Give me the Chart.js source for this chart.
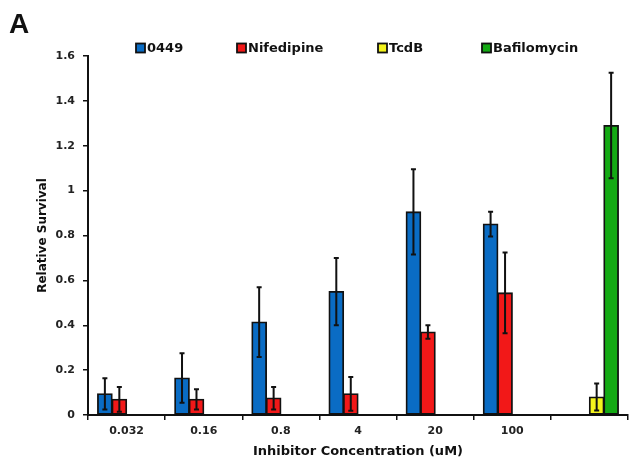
<!DOCTYPE html>
<html>
<head>
<meta charset="utf-8">
<script src="https://cdn.jsdelivr.net/npm/chart.js@4/dist/chart.umd.min.js"></script>
<style>
  html, body { margin: 0; padding: 0; background: #fff; }
  #wrap { position: relative; width: 632px; height: 461px; }
</style>
</head>
<body>
<div id="wrap"><canvas id="c"></canvas></div>
<script>
// Inhibitor concentrations (uM); the last slot holds the controls
const categories = ['0.032', '0.16', '0.8', '4', '20', '100', ''];

const seriesNames = ['0449', 'Nifedipine', 'TcdB', 'Bafilomycin'];

// Mean relative survival
const survival0449       = [0.094, 0.165, 0.414, 0.55, 0.905, 0.851, null];
const survivalNifedipine = [0.07, 0.07, 0.075, 0.094, 0.37, 0.544, null];
const survivalTcdB       = [null, null, null, null, null, null, 0.08];
const survivalBafilo     = [null, null, null, null, null, null, 1.29];

// Standard deviations
const sd0449       = [0.07, 0.11, 0.155, 0.15, 0.19, 0.055, null];
const sdNifedipine = [0.055, 0.045, 0.05, 0.075, 0.03, 0.18, null];
const sdTcdB       = [null, null, null, null, null, null, 0.06];
const sdBafilo     = [null, null, null, null, null, null, 0.235];

const yTicks = [0, 0.2, 0.4, 0.6, 0.8, 1, 1.2, 1.4, 1.6];

const colors = ['#0a6cc4', '#f21818', '#f3f31c', '#14aa14'];
const FONT = '"DejaVu Sans", sans-serif';

// Vertical error bars with small caps
const errorBars = {
  id: 'errorBars',
  afterDatasetsDraw(chart) {
    const ctx = chart.ctx;
    const y = chart.scales.y;
    ctx.save();
    ctx.strokeStyle = '#111';
    ctx.lineWidth = 2;
    chart.data.datasets.forEach((ds, i) => {
      const meta = chart.getDatasetMeta(i);
      meta.data.forEach((bar, j) => {
        const v = ds.data[j], e = ds.errors[j];
        if (v == null || e == null) return;
        const x = bar.x;
        const yt = y.getPixelForValue(v + e);
        const yb = y.getPixelForValue(Math.max(0, v - e));
        ctx.beginPath();
        ctx.moveTo(x, yt); ctx.lineTo(x, yb);
        ctx.moveTo(x - 2.5, yt); ctx.lineTo(x + 2.5, yt);
        ctx.moveTo(x - 2.5, yb); ctx.lineTo(x + 2.5, yb);
        ctx.stroke();
      });
    });
    ctx.restore();
  }
};

// Panel letter and the legend row across the top
const headerLegend = {
  id: 'headerLegend',
  afterDraw(chart) {
    const ctx = chart.ctx;
    ctx.save();
    ctx.fillStyle = '#111';
    ctx.font = 'bold 28px "Liberation Sans", Arial, sans-serif';
    ctx.textBaseline = 'alphabetic';
    ctx.fillText('A', 9, 33);

    const xs = [136, 237, 378, 482];
    const yc = 48;
    ctx.font = 'bold 13px ' + FONT;
    ctx.textBaseline = 'middle';
    chart.data.datasets.forEach((ds, i) => {
      const x = xs[i];
      ctx.fillStyle = ds.backgroundColor;
      ctx.fillRect(x, yc - 4.5, 9, 9);
      ctx.strokeStyle = '#111';
      ctx.lineWidth = 1.8;
      ctx.strokeRect(x, yc - 4.5, 9, 9);
      ctx.fillStyle = '#111';
      ctx.fillText(ds.label, x + 11, yc + 1);
    });
    ctx.restore();
  }
};

const mk = (i, data, errors) => ({
  label: seriesNames[i],
  data: data,
  errors: errors,
  backgroundColor: colors[i],
  borderColor: '#111',
  borderWidth: 1.8,
  borderSkipped: false,
  inflateAmount: 0.6,
  categoryPercentage: 0.75,
  barPercentage: 1.0
});

new Chart(document.getElementById('c'), {
  type: 'bar',
  data: {
    labels: categories,
    datasets: [
      mk(0, survival0449, sd0449),
      mk(1, survivalNifedipine, sdNifedipine),
      mk(2, survivalTcdB, sdTcdB),
      mk(3, survivalBafilo, sdBafilo)
    ]
  },
  options: {
    responsive: true,
    maintainAspectRatio: false,
    animation: false,
    layout: { padding: { top: 56, right: 4, left: 0, bottom: 0 } },
    plugins: {
      legend: { display: false },
      tooltip: { enabled: false }
    },
    scales: {
      x: {
        grid: { display: true, drawOnChartArea: false, drawTicks: true, tickLength: 5, color: '#111', lineWidth: 1.5, offset: true },
        border: { display: true, color: '#111', width: 2 },
        ticks: { color: '#222', padding: 5, font: { family: FONT, size: 11, weight: 'bold' }, maxRotation: 0 },
        title: { display: true, text: 'Inhibitor Concentration (uM)', color: '#111',
                 font: { family: FONT, size: 13, weight: 'bold' }, padding: { top: 0, bottom: 2 } },
        afterFit(s) { s.height = 46; }
      },
      y: {
        min: 0, max: 1.6,
        afterBuildTicks(s) { s.ticks = yTicks.map(v => ({ value: v })); },
        grid: { display: true, drawOnChartArea: false, drawTicks: true, tickLength: 5, color: '#111', lineWidth: 1.5 },
        border: { display: true, color: '#111', width: 2 },
        ticks: { color: '#222', padding: 8, font: { family: FONT, size: 11, weight: 'bold' },
                 callback: v => String(+Number(v).toFixed(1)) },
        title: { display: true, text: 'Relative Survival', color: '#111',
                 font: { family: FONT, size: 12, weight: 'bold' }, padding: { top: 36, bottom: 0 } },
        afterFit(s) { s.width = 88; }
      }
    }
  },
  plugins: [errorBars, headerLegend]
});
</script>
</body>
</html>
